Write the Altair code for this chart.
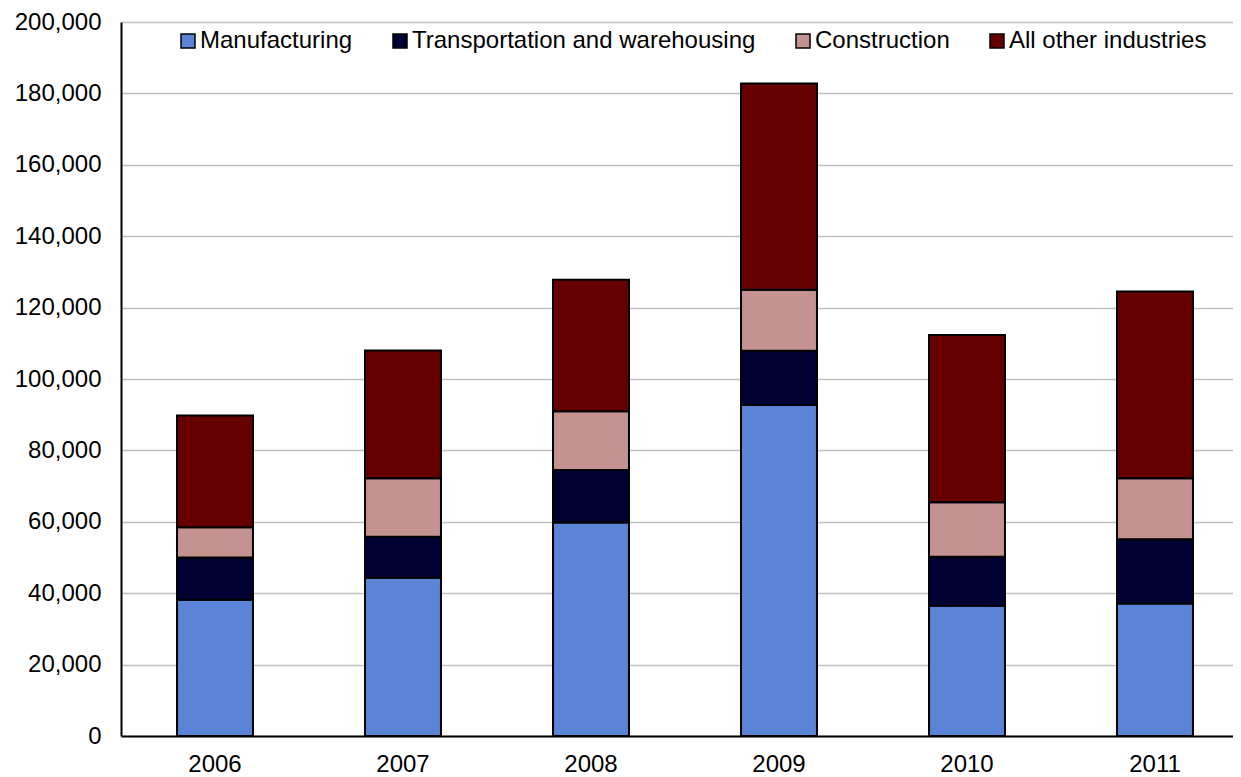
import altair as alt
import pandas as pd

years = ["2006", "2007", "2008", "2009", "2010", "2011"]
industries = ["Manufacturing", "Transportation and warehousing", "Construction", "All other industries"]
colors = ["#5B84D6", "#000033", "#C49391", "#660000"]

manufacturing = [38200, 44300, 59800, 92700, 36500, 37100]
transportation = [11800, 11500, 14700, 15200, 13700, 18000]
construction = [8500, 16400, 16500, 17100, 15300, 17100]
all_other = [31300, 35800, 36800, 57800, 46800, 52300]

series = [manufacturing, transportation, construction, all_other]
rows = []
for k, (name, vals) in enumerate(zip(industries, series)):
    for y, v in zip(years, vals):
        rows.append({"year": y, "industry": name, "value": v, "order": k})
df = pd.DataFrame(rows)

FONT = "Liberation Sans"

chart = alt.Chart(df).mark_bar(stroke="black", strokeWidth=2).encode(
    x=alt.X("year:N", sort=years,
            scale=alt.Scale(paddingInner=0.596, paddingOuter=0.298, range=[0, 1128]),
            axis=alt.Axis(title=None, labelAngle=0, ticks=False, domainColor="black",
                          domainWidth=2, labelFontSize=24, labelFont=FONT,
                          labelColor="black", labelPadding=16, grid=False)),
    y=alt.Y("value:Q", stack="zero",
            scale=alt.Scale(domain=[0, 200000], nice=False),
            axis=alt.Axis(title=None, values=list(range(0, 200001, 20000)), format=",d",
                          ticks=False, domainColor="black", domainWidth=2,
                          labelFontSize=24, labelFont=FONT, labelColor="black",
                          labelPadding=20, gridColor="#c0c0c0", gridWidth=1.5)),
    color=alt.Color("industry:N", sort=industries,
                    scale=alt.Scale(domain=industries, range=colors),
                    legend=alt.Legend(title=None, orient="none", direction="horizontal",
                                      legendX=55, legendY=7, columns=4,
                                      symbolType="square", symbolSize=196,
                                      symbolStrokeColor="black", symbolStrokeWidth=1.5,
                                      labelFontSize=24, labelFont=FONT, labelColor="black",
                                      labelLimit=600, labelOffset=0, columnPadding=35,
                                      padding=0)),
    order=alt.Order("order:Q", sort="ascending"),
).properties(
    width=1112,
    height=714,
    padding={"left": 113, "top": 14, "right": 0, "bottom": 41},
    autosize=alt.AutoSizeParams(type="none"),
).configure_view(stroke=None)

chart.save("out.html", embed_options={"renderer": "svg", "actions": False})
